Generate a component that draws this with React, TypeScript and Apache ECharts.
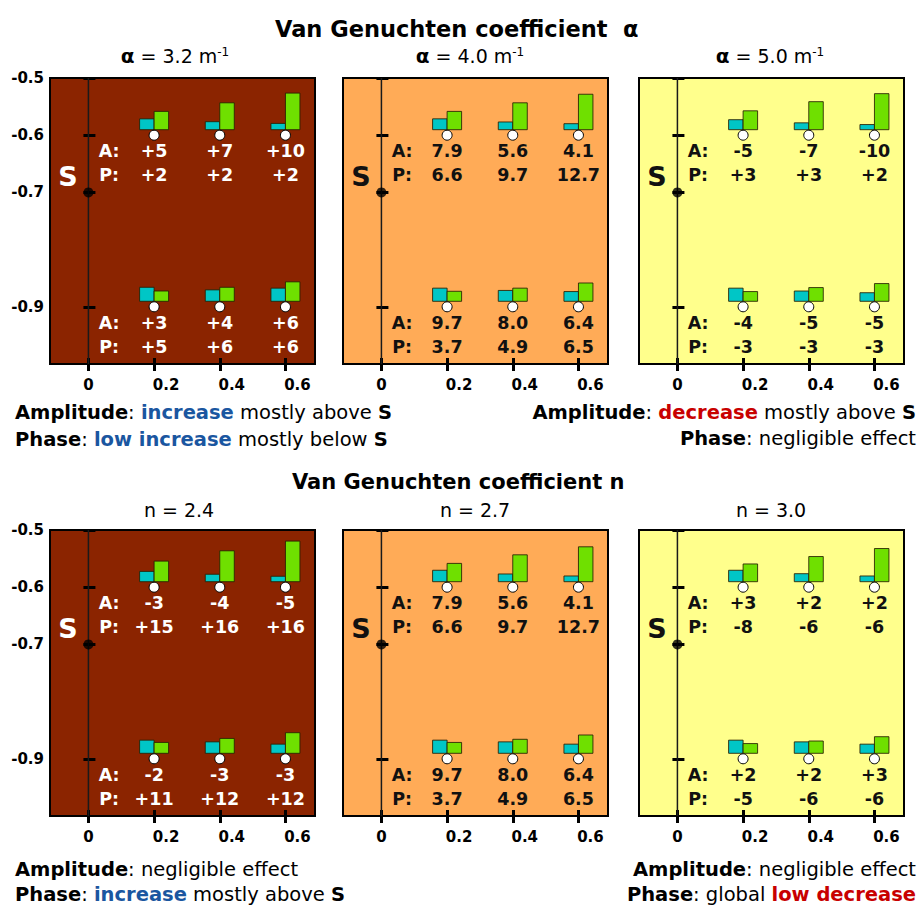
import React, { useEffect, useRef } from 'react';
import * as echarts from 'echarts';

const FONT = '"DejaVu Sans", "Liberation Sans", sans-serif';

// axis ticks
const xTicks = [0, 0.2, 0.4, 0.6];
const yTicks = [-0.5, -0.6, -0.7, -0.9];
const X_MIN = -0.117;
const X_MAX = 0.69;
const Y_MIN = -1.0;
const Y_MAX = -0.5;

// measuring points
const xPositions = [0.2, 0.4, 0.6];
const depths = [-0.6, -0.9];
const sensorX = 0;
const sensorDepth = -0.7;
const sLabelPos = [-0.062, -0.672];
const rowLabelX = 0.063;

// panel subtitles
const alphaValues = ['3.2', '4.0', '5.0'];
const nValues = ['2.4', '2.7', '3.0'];

// A (amplitude) / P (phase) labels: [panel][depth][position]
const alphaAmp = [
  [['+5', '+7', '+10'], ['+3', '+4', '+6']],
  [['7.9', '5.6', '4.1'], ['9.7', '8.0', '6.4']],
  [['-5', '-7', '-10'], ['-4', '-5', '-5']],
];
const alphaPhase = [
  [['+2', '+2', '+2'], ['+5', '+6', '+6']],
  [['6.6', '9.7', '12.7'], ['3.7', '4.9', '6.5']],
  [['+3', '+3', '+2'], ['-3', '-3', '-3']],
];
const nAmp = [
  [['-3', '-4', '-5'], ['-2', '-3', '-3']],
  [['7.9', '5.6', '4.1'], ['9.7', '8.0', '6.4']],
  [['+3', '+2', '+2'], ['+2', '+2', '+3']],
];
const nPhase = [
  [['+15', '+16', '+16'], ['+11', '+12', '+12']],
  [['6.6', '9.7', '12.7'], ['3.7', '4.9', '6.5']],
  [['-8', '-6', '-6'], ['-5', '-6', '-6']],
];

// small bar heights (depth units): [panel][depth][position]
const alphaCyan = [
  [[0.019, 0.014, 0.011], [0.0245, 0.020, 0.023]],
  [[0.019, 0.0135, 0.0105], [0.023, 0.019, 0.017]],
  [[0.0175, 0.012, 0.009], [0.023, 0.018, 0.015]],
];
const alphaGreen = [
  [[0.032, 0.047, 0.064], [0.018, 0.0245, 0.034]],
  [[0.032, 0.047, 0.062], [0.0175, 0.023, 0.032]],
  [[0.033, 0.049, 0.063], [0.017, 0.024, 0.031]],
];
const nCyan = [
  [[0.018, 0.013, 0.0095], [0.023, 0.020, 0.016]],
  [[0.020, 0.0135, 0.010], [0.023, 0.020, 0.016]],
  [[0.020, 0.014, 0.010], [0.023, 0.020, 0.016]],
];
const nGreen = [
  [[0.036, 0.054, 0.071], [0.019, 0.026, 0.036]],
  [[0.032, 0.047, 0.061], [0.019, 0.0245, 0.032]],
  [[0.031, 0.044, 0.058], [0.017, 0.0215, 0.029]],
];

const panelColors = ['#8b2400', '#ffab57', '#ffff8c'];
const panelTextColors = ['#ffffff', '#111111', '#111111'];
const CYAN = '#00c6c6';
const GREEN = '#6fe000';
const BAR_EDGE = 'rgba(40,30,0,0.85)';
const BLUE = '#1a56a0';
const RED = '#c80000';

const gridLefts = [50, 343, 639];
const gridTops = [78, 530];
const GW = 265;
const GH = 286;

function buildOption() {
  const grid: any[] = [];
  const xAxis: any[] = [];
  const yAxis: any[] = [];
  const series: any[] = [];

  const rows = [
    { amp: alphaAmp, phase: alphaPhase, cyan: alphaCyan, green: alphaGreen },
    { amp: nAmp, phase: nPhase, cyan: nCyan, green: nGreen },
  ];

  rows.forEach((row, r) => {
    for (let c = 0; c < 3; c++) {
      const k = r * 3 + c;
      const txt = panelTextColors[c];
      grid.push({
        left: gridLefts[c],
        top: gridTops[r],
        width: GW,
        height: GH,
        show: true,
        backgroundColor: panelColors[c],
        borderColor: '#000',
        borderWidth: 2,
        containLabel: false,
        outerBoundsMode: 'none',
      });
      const tickStyle = { color: '#000', width: 3 };
      xAxis.push({
        gridIndex: k,
        type: 'value',
        position: 'bottom',
        min: X_MIN,
        max: X_MAX,
        axisLine: { show: false },
        splitLine: { show: false },
        axisTick: { show: true, inside: false, length: 7, customValues: xTicks, lineStyle: tickStyle },
        axisLabel: {
          show: true,
          customValues: xTicks,
          margin: 13,
          formatter: (v: number) => (Math.abs(v) < 1e-9 ? '{z|0}' : '{s|' + Number(v).toFixed(1) + '}'),
          rich: {
            z: { fontFamily: FONT, fontWeight: 'bold', fontSize: 15, color: '#000' },
            s: { fontFamily: FONT, fontWeight: 'bold', fontSize: 15, color: '#000', padding: [0, 0, 0, 24] },
          },
          color: '#000',
          fontFamily: FONT,
          fontWeight: 'bold',
          fontSize: 15,
        },
      });
      xAxis.push({
        gridIndex: k,
        type: 'value',
        position: 'bottom',
        min: X_MIN,
        max: X_MAX,
        axisLine: { show: false },
        splitLine: { show: false },
        axisTick: { show: true, inside: true, length: 6, customValues: xTicks, lineStyle: tickStyle },
        axisLabel: { show: false },
      });
      yAxis.push({
        gridIndex: k,
        type: 'value',
        position: 'left',
        min: Y_MIN,
        max: Y_MAX,
        axisLine: { show: false },
        splitLine: { show: false },
        axisTick: { show: true, inside: false, length: 5, customValues: yTicks, lineStyle: tickStyle },
        axisLabel: {
          show: c === 0,
          customValues: yTicks,
          margin: 6,
          formatter: (v: number) => Number(v).toFixed(1),
          color: '#000',
          fontFamily: FONT,
          fontWeight: 'bold',
          fontSize: 15,
        },
      });
      yAxis.push({
        gridIndex: k,
        type: 'value',
        position: 'left',
        min: Y_MIN,
        max: Y_MAX,
        axisLine: { show: false },
        splitLine: { show: false },
        axisTick: { show: true, inside: true, length: 7, customValues: yTicks, lineStyle: tickStyle },
        axisLabel: { show: false },
      });

      const xi = 2 * k;
      const yi = 2 * k;

      // sensor vertical line
      series.push({
        type: 'line',
        xAxisIndex: xi,
        yAxisIndex: yi,
        data: [
          [sensorX, Y_MIN],
          [sensorX, Y_MAX],
        ],
        symbol: 'none',
        silent: true,
        lineStyle: { color: '#1a1a1a', width: 1.5 },
        z: 2,
      });
      // sensor dot
      series.push({
        type: 'scatter',
        xAxisIndex: xi,
        yAxisIndex: yi,
        data: [[sensorX, sensorDepth]],
        symbol: 'circle',
        symbolSize: 10,
        itemStyle: { color: '#000' },
        silent: true,
        z: 3,
      });
      // "S" label
      series.push({
        type: 'custom',
        xAxisIndex: xi,
        yAxisIndex: yi,
        data: [sLabelPos],
        silent: true,
        renderItem: (params: any, api: any) => {
          const p = api.coord([api.value(0), api.value(1)]);
          return {
            type: 'text',
            x: p[0],
            y: p[1],
            style: {
              text: 'S',
              fill: txt,
              fontFamily: FONT,
              fontWeight: 'bold',
              fontSize: 27,
              align: 'center',
              verticalAlign: 'middle',
            },
          };
        },
        z: 4,
      });
      // "A:" / "P:" row labels
      series.push({
        type: 'custom',
        xAxisIndex: xi,
        yAxisIndex: yi,
        data: depths.map((d) => [rowLabelX, d]),
        silent: true,
        renderItem: (params: any, api: any) => {
          const p = api.coord([api.value(0), api.value(1)]);
          const st = { fill: txt, fontFamily: FONT, fontWeight: 'bold', fontSize: 17.5, align: 'center', verticalAlign: 'middle' };
          return {
            type: 'group',
            children: [
              { type: 'text', x: p[0], y: p[1] + 16, style: { ...st, text: 'A:' } },
              { type: 'text', x: p[0], y: p[1] + 40, style: { ...st, text: 'P:' } },
            ],
          };
        },
        z: 4,
      });
      // bar pairs + circles + values
      const data: number[][] = [];
      depths.forEach((d, i) => {
        xPositions.forEach((x, j) => {
          data.push([x, d, row.cyan[c][i][j], row.green[c][i][j]]);
        });
      });
      const amp = row.amp[c];
      const phase = row.phase[c];
      series.push({
        type: 'custom',
        xAxisIndex: xi,
        yAxisIndex: yi,
        data,
        silent: true,
        encode: { x: 0, y: 1 },
        renderItem: (params: any, api: any) => {
          const i = Math.floor(params.dataIndex / 3);
          const j = params.dataIndex % 3;
          const p = api.coord([api.value(0), api.value(1)]);
          const hc = api.size([0, api.value(2)])[1];
          const hg = api.size([0, api.value(3)])[1];
          const rad = 5;
          const w = 14.5;
          const base = p[1] - rad - 0.5;
          const st = { fill: txt, fontFamily: FONT, fontWeight: 'bold', fontSize: 17.5, align: 'center', verticalAlign: 'middle' };
          return {
            type: 'group',
            children: [
              { type: 'rect', shape: { x: p[0] - w, y: base - hc, width: w, height: hc }, style: { fill: CYAN, stroke: BAR_EDGE, lineWidth: 1 } },
              { type: 'rect', shape: { x: p[0], y: base - hg, width: w, height: hg }, style: { fill: GREEN, stroke: BAR_EDGE, lineWidth: 1 } },
              { type: 'circle', shape: { cx: p[0], cy: p[1], r: rad }, style: { fill: '#ffffff', stroke: '#000', lineWidth: 1 } },
              { type: 'text', x: p[0], y: p[1] + 16, style: { ...st, text: amp[i][j] } },
              { type: 'text', x: p[0], y: p[1] + 40, style: { ...st, text: phase[i][j] } },
            ],
          };
        },
        z: 5,
      });
    }
  });

  const NOTE_SIZE = 19.5;
  const base = { fontFamily: FONT, fill: '#000' };
  const noteRich = {
    b: { fontFamily: FONT, fontWeight: 'bold', fontSize: NOTE_SIZE, fill: '#000' },
    blue: { fontFamily: FONT, fontWeight: 'bold', fontSize: NOTE_SIZE, fill: BLUE },
    red: { fontFamily: FONT, fontWeight: 'bold', fontSize: NOTE_SIZE, fill: RED },
  };
  const subRich = {
    a: { fontFamily: FONT, fontWeight: 'bold', fontSize: 20, fill: '#000' },
    s: { fontFamily: FONT, fontSize: 12, fill: '#000', verticalAlign: 'top' },
  };
  const note = (x: number, y: number, text: string, align: string) => ({
    type: 'text',
    x,
    y,
    silent: true,
    style: { ...base, text, rich: noteRich, fontSize: NOTE_SIZE, align, verticalAlign: 'middle' },
  });
  const subCentersA = [175, 470, 770];
  const subCentersN = [179, 475, 771];

  const graphic: any[] = [
    {
      type: 'text',
      x: 275,
      y: 28.5,
      silent: true,
      style: { ...base, text: 'Van Genuchten coefficient  α', fontSize: 22.5, fontWeight: 'bold', align: 'left', verticalAlign: 'middle' },
    },
    {
      type: 'text',
      x: 292,
      y: 481.5,
      silent: true,
      style: { ...base, text: 'Van Genuchten coefficient n', fontSize: 21, fontWeight: 'bold', align: 'left', verticalAlign: 'middle' },
    },
    ...alphaValues.map((v, c) => ({
      type: 'text',
      x: subCentersA[c],
      y: 56,
      silent: true,
      style: { ...base, text: '{a|α} = ' + v + ' m{s|-1}', rich: subRich, fontSize: 19, align: 'center', verticalAlign: 'middle' },
    })),
    ...nValues.map((v, c) => ({
      type: 'text',
      x: subCentersN[c],
      y: 510,
      silent: true,
      style: { ...base, text: 'n = ' + v, fontSize: 19, align: 'center', verticalAlign: 'middle' },
    })),
    note(15, 412, '{b|Amplitude}: {blue|increase} mostly above {b|S}', 'left'),
    note(15, 439, '{b|Phase}: {blue|low increase} mostly below {b|S}', 'left'),
    note(916, 412, '{b|Amplitude}: {red|decrease} mostly above {b|S}', 'right'),
    note(916, 438, '{b|Phase}: negligible effect', 'right'),
    note(15, 869, '{b|Amplitude}: negligible effect', 'left'),
    note(15, 894, '{b|Phase}: {blue|increase} mostly above {b|S}', 'left'),
    note(916, 869, '{b|Amplitude}: negligible effect', 'right'),
    note(916, 894, '{b|Phase}: global {red|low decrease}', 'right'),
  ];

  return {
    animation: false,
    backgroundColor: '#ffffff',
    grid,
    xAxis,
    yAxis,
    series,
    graphic,
  };
}

export default function App() {
  const ref = useRef<HTMLDivElement>(null);
  useEffect(() => {
    if (!ref.current) return;
    const chart = echarts.init(ref.current, null, { renderer: 'svg' });
    chart.setOption(buildOption() as any);
    return () => {
      chart.dispose();
    };
  }, []);
  return (
    <div
      ref={ref}
      style={{ position: 'fixed', left: 0, top: 0, width: 920, height: 907, background: '#fff' }}
    />
  );
}
